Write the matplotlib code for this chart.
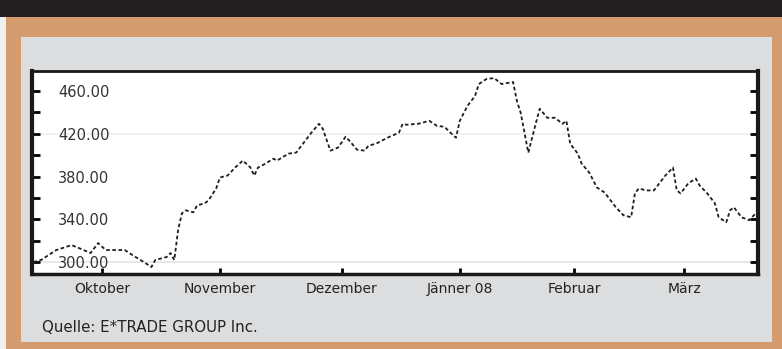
import pandas as pd
import matplotlib.pyplot as plt
from matplotlib.patches import Rectangle
from matplotlib.ticker import MultipleLocator

# Kursverlauf
datum = ["2007-09-13", "2007-09-15", "2007-09-19", "2007-09-23", "2007-09-25", "2007-09-28",
         "2007-09-30", "2007-10-02", "2007-10-04", "2007-10-07", "2007-10-09", "2007-10-12",
         "2007-10-14", "2007-10-15", "2007-10-18", "2007-10-19", "2007-10-20", "2007-10-21",
         "2007-10-22", "2007-10-23", "2007-10-25", "2007-10-26", "2007-10-28", "2007-10-29",
         "2007-10-31", "2007-11-01", "2007-11-03", "2007-11-05", "2007-11-07", "2007-11-09",
         "2007-11-10", "2007-11-11", "2007-11-13", "2007-11-15", "2007-11-16", "2007-11-19",
         "2007-11-21", "2007-11-23", "2007-11-25", "2007-11-27", "2007-11-28", "2007-11-30",
         "2007-12-02", "2007-12-04", "2007-12-05", "2007-12-07", "2007-12-09", "2007-12-10",
         "2007-12-12", "2007-12-15", "2007-12-18", "2007-12-19", "2007-12-20", "2007-12-23",
         "2007-12-24", "2007-12-26", "2007-12-28", "2007-12-30", "2007-12-31", "2008-01-02",
         "2008-01-03", "2008-01-05", "2008-01-07", "2008-01-08", "2008-01-10", "2008-01-12",
         "2008-01-13", "2008-01-14", "2008-01-17", "2008-01-18", "2008-01-19", "2008-01-20",
         "2008-01-21", "2008-01-22", "2008-01-23", "2008-01-24", "2008-01-26", "2008-01-28",
         "2008-01-30", "2008-01-31", "2008-02-01", "2008-02-03", "2008-02-04", "2008-02-06",
         "2008-02-08", "2008-02-10", "2008-02-11", "2008-02-13", "2008-02-15", "2008-02-17",
         "2008-02-18", "2008-02-19", "2008-02-21", "2008-02-23", "2008-02-25", "2008-02-26",
         "2008-02-28", "2008-02-29", "2008-03-01", "2008-03-03", "2008-03-05", "2008-03-06",
         "2008-03-08", "2008-03-10", "2008-03-11", "2008-03-13", "2008-03-14", "2008-03-15",
         "2008-03-17", "2008-03-19", "2008-03-21"]
kurs = [300.0, 301.9, 311.2, 315.8, 313.0, 308.4,
        317.7, 311.2, 311.2, 311.2, 306.5, 300.0,
        295.3, 301.9, 304.7, 308.4, 301.9, 329.8,
        345.6, 348.4, 346.5, 353.0, 354.9, 357.7,
        368.8, 379.1, 380.9, 388.4, 394.9, 388.4,
        380.9, 388.4, 392.1, 396.7, 394.9, 401.4,
        402.3, 411.6, 420.9, 429.3, 424.7, 404.2,
        407.0, 417.2, 413.5, 405.1, 404.2, 408.8,
        410.7, 416.3, 420.9, 429.3, 428.4, 429.3,
        430.2, 432.1, 427.4, 426.5, 422.8, 416.3,
        432.1, 446.0, 455.3, 466.5, 471.2, 472.1,
        469.3, 466.5, 468.4, 450.7, 439.5, 420.9,
        402.3, 416.3, 430.2, 443.3, 434.9, 434.9,
        429.3, 432.1, 410.7, 401.4, 392.1, 383.7,
        369.8, 365.1, 360.5, 351.2, 343.7, 341.9,
        364.2, 368.8, 367.0, 367.0, 376.3, 380.9,
        388.4, 367.0, 364.2, 373.5, 378.1, 371.6,
        364.2, 354.9, 341.9, 337.2, 348.4, 351.2,
        341.9, 339.1, 346.5]

monate = ["Oktober", "November", "Dezember", "Jänner 08", "Februar", "März"]
monat_pos = ["2007-10-01", "2007-11-01", "2007-12-03", "2008-01-03", "2008-02-02", "2008-03-02"]
y_ticks = [300, 340, 380, 420, 460]
quelle = "Quelle: E*TRADE GROUP Inc."

df = pd.DataFrame({"datum": pd.to_datetime(datum), "kurs": kurs})

fig = plt.figure(figsize=(7.82, 3.49), dpi=100)
fig.patch.set_facecolor("#d49b6e")

# Hintergrund: schwarzer Balken oben, weisser Rand links, grauer Kasten
fig.add_artist(Rectangle((0, 0.9513), 1, 0.0487, transform=fig.transFigure,
                         facecolor="#231f20", edgecolor="none", zorder=0))
fig.add_artist(Rectangle((0, 0), 6 / 782, 0.9513, transform=fig.transFigure,
                         facecolor="#efefef", edgecolor="none", zorder=0))
fig.add_artist(Rectangle((21 / 782, 7 / 349), 751 / 782, 305 / 349, transform=fig.transFigure,
                         facecolor="#dcdddf", edgecolor="none", zorder=0))

ax = fig.add_axes([32 / 782, 1 - 274 / 349, 726 / 782, 203 / 349])
ax.set_facecolor("white")
ax.plot(df["datum"], df["kurs"], color="#1e1e1e", linewidth=1.3,
        linestyle=(0, (2, 1.4)))

ax.axhline(300, color="#e4e4e4", linewidth=1.2, zorder=0)
ax.axhline(420, color="#eeeeee", linewidth=1.2, zorder=0)

ax.set_xlim(pd.Timestamp("2007-09-12 15:00"), pd.Timestamp("2008-03-21 08:00"))
ax.set_ylim(288.8, 478.7)

ax.set_xticks(pd.to_datetime(monat_pos))
ax.set_xticklabels(monate, fontsize=10, color="#222222")
ax.tick_params(axis="x", direction="in", length=4, width=2, pad=6)

ax.set_yticks(y_ticks)
ax.set_yticklabels([f"{v:.2f}" for v in y_ticks], fontsize=10.5, color="#333333")
ax.yaxis.set_minor_locator(MultipleLocator(20))
ax.tick_params(axis="y", which="both", direction="in", length=6, width=2,
               right=True, pad=-19)
for lab in ax.get_yticklabels():
    lab.set_horizontalalignment("left")

for side, lw in [("left", 3), ("right", 3), ("top", 2), ("bottom", 2.5)]:
    ax.spines[side].set_linewidth(lw)
    ax.spines[side].set_color("#1a1a1a")

fig.text(42 / 782, 1 - 327 / 349, quelle, fontsize=10.8, color="#222222",
         ha="left", va="center")

fig.savefig("out.png", dpi=100)
